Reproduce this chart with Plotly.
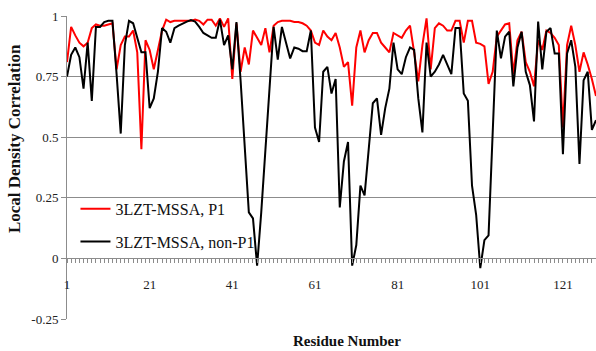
import plotly.graph_objects as go

residues = list(range(1, 130))

p1 = [0.81, 0.955, 0.92, 0.89, 0.875, 0.89, 0.95, 0.965, 0.96, 0.96,
      0.965, 0.97, 0.78, 0.88, 0.915, 0.915, 0.94, 0.85, 0.45, 0.90,
      0.86, 0.78, 0.86, 0.94, 0.985, 0.975, 0.98, 0.98, 0.98, 0.98,
      0.98, 0.985, 0.98, 0.965, 0.985, 0.985, 0.96, 0.99, 0.955, 0.99,
      0.74, 0.97, 0.77, 0.87, 0.80, 0.94, 0.91, 0.88, 0.95, 0.85,
      0.96, 0.975, 0.98, 0.98, 0.98, 0.975, 0.975, 0.97, 0.96, 0.94,
      0.89, 0.88, 0.94, 0.915, 0.90, 0.93, 0.87, 0.79, 0.81, 0.63,
      0.87, 0.94, 0.85, 0.90, 0.93, 0.93, 0.89, 0.87, 0.85, 0.93,
      0.92, 0.91, 0.94, 0.96, 0.85, 0.73, 0.88, 0.99, 0.78, 0.95,
      0.97, 0.96, 0.94, 0.94, 0.98, 0.98, 0.89, 0.98, 0.98, 0.89,
      0.885, 0.875, 0.72, 0.77, 0.915, 0.94, 0.965, 0.97, 0.76, 0.90,
      0.935, 0.81, 0.77, 0.71, 0.90, 0.86, 0.94, 0.93, 0.91, 0.88,
      0.54, 0.88, 0.96, 0.88, 0.77, 0.85, 0.80, 0.74, 0.67]

non_p1 = [0.75, 0.84, 0.87, 0.83, 0.70, 0.89, 0.65, 0.955, 0.955, 0.975,
          0.98, 0.98, 0.76, 0.515, 0.88, 0.98, 0.97, 0.91, 0.85, 0.85,
          0.62, 0.66, 0.77, 0.95, 0.935, 0.89, 0.95, 0.96, 0.97, 0.977,
          0.983, 0.977, 0.955, 0.93, 0.92, 0.91, 0.91, 0.985, 0.88, 0.92,
          0.78, 0.975, 0.735, 0.44, 0.19, 0.165, -0.03, 0.19, 0.46, 0.72,
          0.955, 0.82, 0.955, 0.89, 0.825, 0.87, 0.865, 0.855, 0.855, 0.94,
          0.54, 0.48, 0.77, 0.79, 0.68, 0.74, 0.21, 0.40, 0.48, -0.03,
          0.055, 0.30, 0.26, 0.45, 0.64, 0.66, 0.51, 0.62, 0.70, 0.89,
          0.78, 0.76, 0.83, 0.87, 0.86, 0.66, 0.52, 0.89, 0.75, 0.77,
          0.80, 0.84, 0.80, 0.76, 0.95, 0.95, 0.68, 0.65, 0.30, 0.18,
          -0.04, 0.075, 0.095, 0.50, 0.94, 0.825, 0.915, 0.935, 0.71, 0.87,
          0.935, 0.77, 0.715, 0.565, 0.977, 0.78, 0.935, 0.95, 0.845, 0.845,
          0.43, 0.845, 0.90, 0.79, 0.39, 0.735, 0.77, 0.53, 0.57]

x_tick_vals = [1, 21, 41, 61, 81, 101, 121]
x_tick_text = ["1", "21", "41", "61", "81", "101", "121"]
y_tick_vals = [-0.25, 0, 0.25, 0.5, 0.75, 1]
y_tick_text = ["-0.25", "0", "0.25", "0.5", "0.75", "1"]

series_names = ["3LZT-MSSA, P1", "3LZT-MSSA, non-P1"]

SERIF = "Liberation Serif, Times New Roman, serif"
GRID = "#8c8c8c"

fig = go.Figure()
fig.add_trace(go.Scatter(x=residues, y=p1, mode="lines", name=series_names[0],
                         legendgroup="a", cliponaxis=False,
                         line=dict(color="#ff0000", width=2)))
fig.add_trace(go.Scatter(x=residues, y=non_p1, mode="lines", name=series_names[1],
                         legendgroup="b", cliponaxis=False,
                         line=dict(color="#000000", width=2)))

fig.update_layout(
    width=596, height=351,
    margin=dict(l=67, r=0, t=16, b=32, autoexpand=False),
    paper_bgcolor="white", plot_bgcolor="white",
    font=dict(family=SERIF, size=13, color="#222222"),
    showlegend=True,
    legend=dict(x=0.016, y=0.42, xanchor="left", yanchor="top",
                bgcolor="rgba(0,0,0,0)", font=dict(family=SERIF, size=16, color="#111"),
                tracegroupgap=9, traceorder="grouped"),
    xaxis=dict(range=[1, 129], anchor="free", position=0.2, automargin=False,
               tickmode="array", tickvals=x_tick_vals, ticktext=x_tick_text,
               ticks="outside", ticklen=4, tickcolor=GRID, ticklabelstandoff=10,
               minor=dict(ticks="outside", ticklen=4, dtick=1, tick0=1,
                          tickcolor=GRID, showgrid=False),
               showline=True, linecolor=GRID, linewidth=1,
               showgrid=False, zeroline=False,
               tickfont=dict(family=SERIF, size=13, color="#222")),
    yaxis=dict(range=[-0.25, 1], tickmode="array", tickvals=y_tick_vals,
               ticktext=y_tick_text, ticks="outside", ticklen=5, tickcolor=GRID,
               automargin=False,
               showline=True, linecolor=GRID, linewidth=1,
               showgrid=True, gridcolor=GRID, gridwidth=1, zeroline=False,
               tickfont=dict(family=SERIF, size=13, color="#222")),
    annotations=[
        dict(text="<b>Residue Number</b>", xref="paper", yref="paper",
             x=0.53, y=-0.073, xanchor="center", yanchor="middle",
             showarrow=False, font=dict(family=SERIF, size=15, color="#111")),
        dict(text="<b>Local Density Correlation</b>", xref="paper", yref="paper",
             x=-0.1, y=0.594, xanchor="center", yanchor="middle", textangle=-90,
             showarrow=False, font=dict(family=SERIF, size=17, color="#111")),
    ],
)

fig.write_html("out.html", config={"displayModeBar": False},
               post_script="document.body.style.margin='0';document.body.style.overflow='hidden';")
